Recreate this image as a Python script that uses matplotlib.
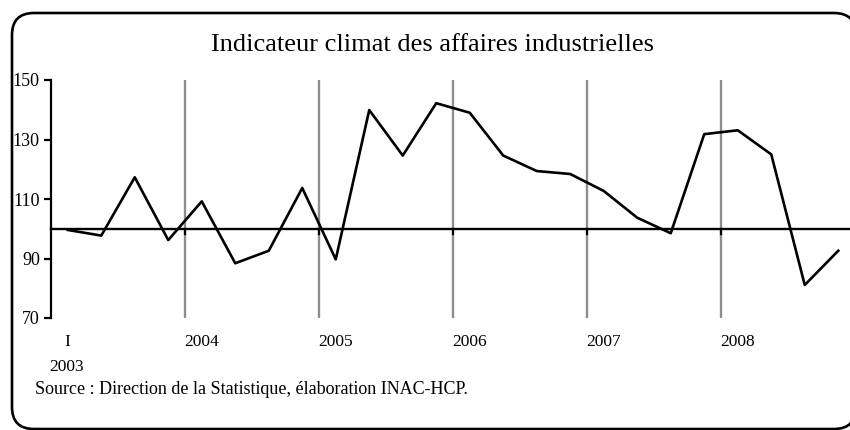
import matplotlib
matplotlib.use("Agg")
import matplotlib.pyplot as plt
from matplotlib.patches import FancyBboxPatch
from matplotlib.transforms import blended_transform_factory

plt.rcParams['font.family'] = ['Liberation Serif', 'DejaVu Serif']

# ---- data ----
quarters = [f"{y}T{q}" for y in range(2003, 2009) for q in range(1, 5)]
values = [99.6, 97.7, 117.3, 96.2, 109.2, 88.4, 92.6, 113.7,
          89.7, 139.9, 124.6, 142.2, 139.0, 124.6, 119.4, 118.4,
          112.7, 103.7, 98.5, 131.8, 133.1, 125.0, 81.1, 92.6]
year_labels = ["I", "2004", "2005", "2006", "2007", "2008"]
first_year = "2003"
y_ticks = [70, 90, 110, 130, 150]
baseline = 100
title = "Indicateur climat des affaires industrielles"
source = "Source : Direction de la Statistique, élaboration INAC-HCP."

W, H = 850, 430
fig = plt.figure(figsize=(W / 100, H / 100), dpi=100)

# background axes in pixel units for frame and texts
bg = fig.add_axes([0, 0, 1, 1], zorder=0)
bg.set_xlim(0, W)
bg.set_ylim(H, 0)
bg.axis("off")
frame = FancyBboxPatch((12 + 22, 13 + 22), 856 - 12 - 44, 429 - 13 - 44,
                       boxstyle="round,pad=22", linewidth=1.9,
                       edgecolor="black", facecolor="white")
bg.add_patch(frame)
bg.text(433, 45, title, ha="center", va="center", fontsize=19)
bg.text(35, 390, source, ha="left", va="center", fontsize=13)

# main plot
left_px, right_px, top_px, bot_px = 51, 850, 80, 318
cat_w = 33.5
ax = fig.add_axes([left_px / W, (H - bot_px) / H, (right_px - left_px) / W, (bot_px - top_px) / H], zorder=1)
ax.patch.set_alpha(0)
n = len(values)
x = list(range(n))
ax.set_xlim(-0.5, -0.5 + (right_px - left_px) / cat_w)
ax.set_ylim(70, 150)

for s in ["top", "right", "bottom"]:
    ax.spines[s].set_visible(False)
ax.spines["left"].set_linewidth(1.6)
ax.set_yticks(y_ticks)
ax.set_yticklabels([str(v) for v in y_ticks], fontsize=13)
ax.tick_params(axis="y", direction="out", length=5, width=1.6, pad=3)
ax.set_xticks([])

# year boundary gridlines
for k in range(4, n, 4):
    ax.axvline(k - 0.5, color="#8e8e8e", linewidth=1.7, zorder=1)
    ax.plot([k - 0.5, k - 0.5], [baseline, baseline - 1.6], color="black", linewidth=1.6, zorder=3)

# baseline axis at 100
ax.axhline(baseline, color="black", linewidth=1.7, zorder=2, clip_on=False)

ax.plot(x, values, color="black", linewidth=1.9, zorder=4)

# category labels
tr = blended_transform_factory(ax.transData, fig.transFigure)
for i, lab in enumerate(year_labels):
    ax.text(i * 4, (H - 342) / H, lab, transform=tr, ha="center", va="center", fontsize=12.5)
ax.text(-0.05, (H - 367) / H, first_year, transform=tr, ha="center", va="center", fontsize=12.5)

fig.savefig("out.png", dpi=100)
